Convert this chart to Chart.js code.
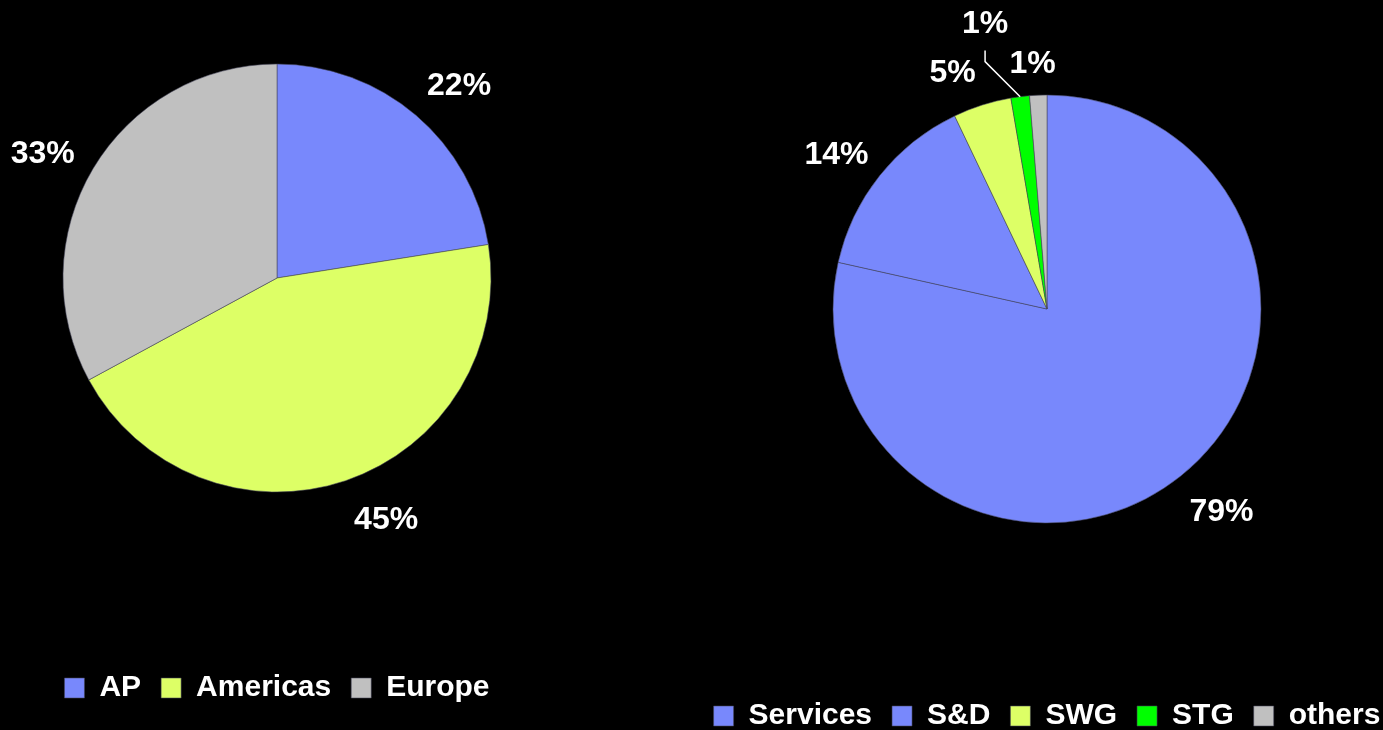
<!DOCTYPE html>
<html>
<head>
<meta charset="utf-8">
<script src="https://cdn.jsdelivr.net/npm/chart.js@4/dist/chart.umd.min.js"></script>
<style>
  html, body { margin: 0; padding: 0; background: #000; overflow: hidden; }
  body { width: 1383px; height: 730px; position: relative; }
  .box { position: absolute; }
  #left-box { left: 0; top: -97px; width: 554px; height: 810px; }
  #right-box { left: 690px; top: -63px; width: 714px; height: 804px; }
</style>
</head>
<body>
<div class="box" id="left-box"><canvas id="regionPie"></canvas></div>
<div class="box" id="right-box"><canvas id="segmentPie"></canvas></div>
<script>
// data
let region_labels = ["AP", "Americas", "Europe"]
let region_values = [22.5, 44.6, 32.9]
let region_text = ["22%", "45%", "33%"]

let segment_labels = ["Services", "S&D", "SWG", "STG", "others"]
let segment_values = [78.5, 14.4, 4.4, 1.4, 1.3]
let segment_text = ["79%", "14%", "5%", "1%", "1%"]

const BLUE = '#7888FC', LIME = '#DDFF66', GREY = '#C0C0C0', GREEN = '#00FF00'

// draws the percentage labels outside each slice
const outsideLabels = {
	id: 'outsideLabels',
	afterDatasetsDraw(chart, args, opts) {
		const c = chart.ctx
		const arcs = chart.getDatasetMeta(0).data
		c.save()
		c.font = 'bold 32px "Liberation Sans", Arial, sans-serif'
		c.fillStyle = '#fff'
		c.textAlign = 'center'
		c.textBaseline = 'middle'
		arcs.forEach(function(arc, i) {
			const tw = (opts.tweaks || {})[i] || {}
			let mid = (arc.startAngle + arc.endAngle) / 2
			let a = mid + (tw.turn || 0) * Math.PI / 180
			let d = tw.dist || opts.dist
			let x = arc.x + Math.cos(a) * d
			let y = arc.y + Math.sin(a) * d
			if (tw.leader) {
				c.strokeStyle = '#fff'
				c.lineWidth = 1.5
				c.beginPath()
				c.moveTo(arc.x + Math.cos(mid) * arc.outerRadius, arc.y + Math.sin(mid) * arc.outerRadius)
				c.lineTo(x, y + 39)
				c.lineTo(x, y + 28)
				c.stroke()
			}
			c.fillText(opts.text[i], x, y + 2)
		})
		c.restore()
	}
}

let make_pie = function(id, labels, values, colors, text, tweaks) {
	return new Chart(document.getElementById(id), {
		type: 'pie',
		data: {
			labels: labels,
			datasets: [{
				data: values,
				backgroundColor: colors,
				borderColor: 'rgba(70,70,90,0.55)',
				borderWidth: 1
			}]
		},
		options: {
			responsive: true,
			maintainAspectRatio: false,
			animation: false,
			radius: 214,
			plugins: {
				tooltip: { enabled: false },
				legend: {
					position: 'bottom',
					labels: {
						color: '#fff',
						boxWidth: 20,
						boxHeight: 20,
						padding: 20,
						font: { family: '"Liberation Sans", Arial, sans-serif', size: 30, weight: 'bold' }
					}
				},
				outsideLabels: { text: text, dist: 266, tweaks: tweaks }
			}
		},
		plugins: [outsideLabels]
	})
}

let regionPie = make_pie('regionPie', region_labels, region_values,
	[BLUE, LIME, GREY], region_text,
	{ 0: { turn: 2.7 }, 1: { turn: -5.7, dist: 264 }, 2: { turn: -2.5 } })

let segmentPie = make_pie('segmentPie', segment_labels, segment_values,
	[BLUE, BLUE, LIME, GREEN, GREY], segment_text,
	{ 0: { turn: -2.3 }, 1: { turn: -2, dist: 262 }, 2: { dist: 256, turn: -4 },
	  3: { dist: 293, turn: -5, leader: true }, 4: { dist: 247, turn: -1 } })
</script>
</body>
</html>
